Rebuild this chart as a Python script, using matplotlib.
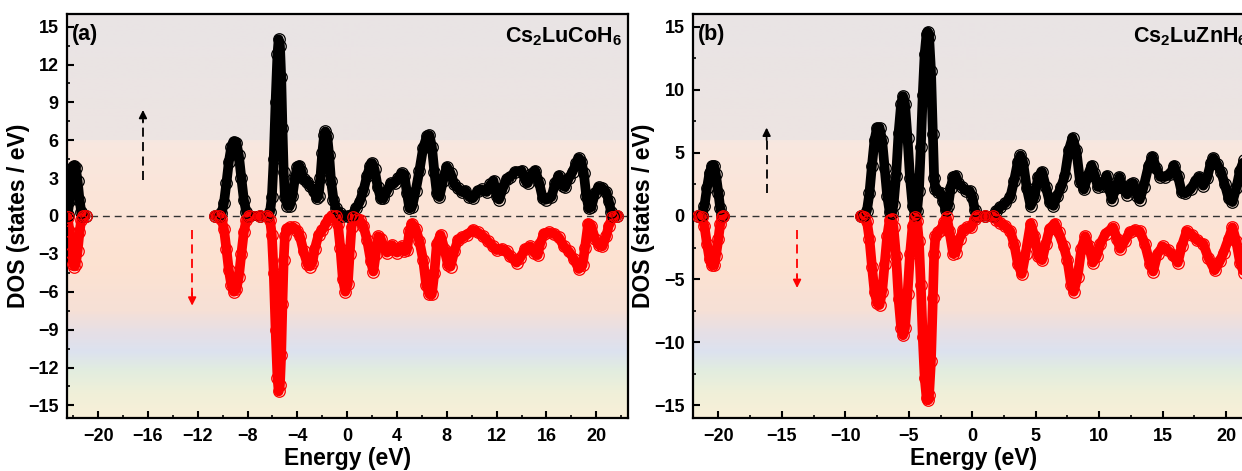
import numpy as np
import matplotlib
matplotlib.use("Agg")
import matplotlib.pyplot as plt
from matplotlib.colors import LinearSegmentedColormap
from matplotlib.ticker import MultipleLocator

plt.rcParams['font.family'] = ['Liberation Sans', 'DejaVu Sans']
plt.rcParams['font.weight'] = 'bold'
plt.rcParams['mathtext.fontset'] = 'custom'
plt.rcParams['mathtext.rm'] = 'Liberation Sans:bold'
plt.rcParams['mathtext.bf'] = 'Liberation Sans:bold'
plt.rcParams['axes.unicode_minus'] = True

nan = np.nan

# ---- Cs2LuCoH6: spin up / spin down DOS (states/eV) vs energy (eV) ----
co_up_E = [-22.45, -22.3, -22.15, -22.0, -21.9, -21.8, -21.65, -21.5, -21.35, -21.2, -21.0, nan,
           -10.6, -10.3, -10.1, -9.9, -9.7, -9.5, -9.3, -9.1, -8.9, -8.7, -8.5, -8.3, -8.1, -7.9,
           -7.0, -6.4, -6.2, -6.05, -5.9, -5.75, -5.6, -5.5, -5.4, -5.3, -5.2, -5.1, -5.0, -4.8,
           -4.6, -4.4, -4.2, -4.0, -3.85, -3.7, -3.5, -3.2, -3.0, -2.7, -2.45, -2.3, -2.15, -2.0,
           -1.85, -1.75, -1.6, -1.45, -1.3, -1.1, -0.9, -0.6, -0.3, 0.1, 0.4, 0.7, 1.0, 1.3, 1.6,
           1.85, 2.0, 2.2, 2.45, 2.7, 2.9, 3.2, 3.5, 3.8, 4.1, 4.4, 4.6, 4.8, 5.0, 5.2, 5.5, 5.8,
           6.1, 6.4, 6.6, 6.8, 7.0, 7.2, 7.4, 7.7, 8.0, 8.3, 8.6, 8.9, 9.2, 9.5, 9.8, 10.1, 10.5,
           10.8, 11.2, 11.5, 11.75, 12.0, 12.2, 12.5, 12.8, 13.1, 13.5, 14.0, 14.3, 14.5, 14.8,
           15.1, 15.4, 15.7, 16.0, 16.4, 16.7, 17.0, 17.3, 17.5, 17.8, 18.1, 18.4, 18.6, 18.8,
           19.0, 19.2, 19.4, 19.6, 19.9, 20.2, 20.5, 20.8, 21.0, 21.2, 21.35, 21.7]
co_up_D = [0.1, 1.2, 2.9, 3.9, 4.0, 3.8, 2.8, 1.3, 0.3, 0.0, 0.0, nan,
           0.0, 0.0, 0.2, 1.0, 2.6, 4.3, 5.5, 5.9, 5.8, 4.8, 3.0, 1.3, 0.3, 0.0,
           0.0, 0.0, 0.3, 1.5, 4.5, 9.0, 12.8, 14.0, 13.5, 11.0, 7.0, 3.5, 1.5, 0.8,
           0.8, 1.6, 3.0, 3.9, 4.0, 3.6, 2.9, 2.7, 2.4, 2.0, 1.4, 1.6, 3.0, 5.0,
           6.4, 6.7, 6.3, 4.8, 2.8, 1.3, 0.6, 0.2, 0.0, 0.0, 0.1, 0.6, 1.1, 2.0, 3.2,
           4.0, 4.2, 3.7, 2.3, 1.4, 1.4, 2.0, 2.6, 2.6, 3.0, 3.4, 3.2, 1.8, 0.6, 0.7, 2.0, 3.6,
           5.4, 6.3, 6.4, 5.5, 3.5, 1.8, 1.5, 2.8, 3.9, 3.4, 2.5, 2.2, 1.9, 2.0, 1.5, 1.4, 2.0,
           2.1, 1.9, 2.5, 2.8, 1.6, 1.3, 2.2, 2.9, 3.1, 3.5, 3.6, 2.8, 2.6, 3.3,
           3.6, 2.7, 1.4, 1.3, 1.5, 2.6, 3.2, 2.4, 2.3, 3.0, 3.5, 4.2, 4.6, 4.3,
           3.4, 1.6, 0.6, 0.7, 1.8, 2.3, 2.2, 1.9, 1.2, 0.3, 0.0, 0.0]

co_dn_E = [-22.45, -22.3, -22.15, -22.0, -21.9, -21.8, -21.65, -21.5, -21.35, -21.2, -21.0, nan,
           -10.6, -10.3, -10.1, -9.9, -9.7, -9.5, -9.3, -9.1, -8.9, -8.7, -8.5, -8.3, -8.1, -7.9,
           -7.0, -6.4, -6.2, -6.05, -5.9, -5.75, -5.6, -5.5, -5.4, -5.3, -5.2, -5.1, -5.0, -4.85,
           -4.6, -4.3, -4.0, -3.8, -3.5, -3.2, -3.0, -2.8, -2.6, -2.3, -2.0, -1.7, -1.5, -1.2,
           -0.9, -0.75, -0.55, -0.35, -0.15, 0.05, 0.2, 0.35, 0.5, 0.8, 1.0, 1.3, 1.6, 1.9, 2.1,
           2.3, 2.5, 2.7, 2.9, 3.2, 3.4, 3.6, 3.8, 4.0, 4.2, 4.4, 4.6, 4.8, 5.0, 5.2, 5.5, 5.8,
           6.1, 6.35, 6.6, 6.8, 7.0, 7.2, 7.5, 7.8, 8.1, 8.3, 8.6, 8.9, 9.2, 9.6, 10.1, 10.5,
           10.9, 11.3, 11.7, 12.0, 12.4, 12.8, 13.1, 13.6, 13.9, 14.3, 14.7, 15.0, 15.3, 15.5,
           15.8, 16.2, 16.6, 17.0, 17.4, 17.8, 18.2, 18.6, 18.9, 19.1, 19.35, 19.6, 19.9, 20.2,
           20.5, 20.8, 21.0, 21.3, 21.7]
co_dn_D = [-0.1, -1.2, -2.9, -3.8, -4.0, -3.8, -2.8, -1.3, -0.3, 0.0, 0.0, nan,
           0.0, 0.0, -0.2, -1.0, -2.6, -4.3, -5.5, -6.0, -5.8, -4.8, -3.0, -1.3, -0.3, 0.0,
           0.0, 0.0, -0.3, -1.5, -4.5, -9.0, -12.8, -13.9, -13.4, -11.0, -7.0, -3.5, -1.6, -1.0,
           -0.9, -0.9, -1.2, -1.6, -2.8, -3.8, -4.0, -3.7, -2.6, -1.5, -1.1, -0.6, -0.2, 0.0,
           0.0, -0.6, -2.5, -5.0, -6.0, -5.4, -3.0, -0.9, -0.1, -0.2, -0.3, -0.8, -1.9, -3.6, -4.4,
           -3.0, -1.6, -1.8, -2.4, -2.9, -2.6, -2.3, -2.6, -2.9, -2.6, -2.4, -2.8, -2.7, -1.2, -0.6, -1.0, -2.0,
           -3.5, -5.5, -6.2, -6.2, -4.5, -2.2, -1.5, -2.6, -3.9, -4.0, -2.8, -1.9, -1.7, -1.5, -1.1, -1.3,
           -1.6, -2.0, -2.4, -2.7, -2.6, -2.8, -3.2, -3.7, -3.3, -2.6, -2.4, -2.9, -3.1, -2.2,
           -1.4, -1.3, -1.4, -1.7, -2.4, -2.8, -3.4, -4.2, -3.9, -2.5, -0.6, -0.8, -1.8, -2.3,
           -2.4, -1.6, -0.8, -0.1, 0.0]

# ---- Cs2LuZnH6 ----
zn_up_E = [-21.6, -21.3, -21.1, -20.9, -20.7, -20.5, -20.35, -20.2, -20.0, -19.85, -19.7, -19.6, nan,
           -8.8, -8.5, -8.3, -8.1, -7.9, -7.7, -7.5, -7.3, -7.1, -6.9, -6.7, -6.5, -6.35, -6.2,
           -6.0, -5.8, -5.6, -5.45, -5.3, -5.1, -4.9, -4.7, -4.5, -4.35, -4.2, -4.05, -3.9, -3.75,
           -3.6, -3.5, -3.4, -3.25, -3.1, -3.0, -2.9, -2.7, -2.5, -2.3, -2.1, -1.9, -1.7, -1.5,
           -1.3, -1.1, -0.8, -0.5, -0.2, 0.0, 0.2, 0.4, 1.0, 1.6, 1.9, 2.2, 2.6, 3.0, 3.3, 3.6,
           3.8, 4.0, 4.3, 4.6, 4.9, 5.2, 5.5, 5.8, 6.1, 6.4, 6.7, 7.0, 7.3, 7.6, 7.9, 8.2, 8.5,
           8.8, 9.1, 9.4, 9.6, 9.9, 10.2, 10.6, 10.8, 11.0, 11.3, 11.6, 11.9, 12.2, 12.5, 12.7,
           13.0, 13.2, 13.5, 13.9, 14.2, 14.5, 14.8, 15.2, 15.6, 15.9, 16.2, 16.5, 16.8, 17.2,
           17.6, 17.9, 18.2, 18.5, 18.8, 19.0, 19.3, 19.6, 19.9, 20.2, 20.5, 20.8, 21.1, 21.4,
           21.7, 22.0]
zn_up_D = [0.0, 0.1, 0.8, 2.2, 3.4, 4.0, 4.0, 3.3, 1.8, 0.6, 0.05, 0.0, nan,
           0.0, 0.05, 0.4, 1.8, 4.0, 6.0, 7.0, 7.0, 6.0, 3.8, 1.6, 0.3, 0.2, 0.9,
           3.2, 6.6, 8.9, 9.5, 8.9, 6.2, 3.0, 0.8, 0.1, 0.4, 2.0, 5.5, 9.6, 12.8,
           14.4, 14.6, 14.2, 11.5, 6.5, 3.0, 2.1, 1.9, 1.8, 1.2, 0.5, 0.8, 2.2, 3.1,
           3.2, 2.6, 2.3, 2.0, 2.0, 1.5, 0.5, 0.0, 0.0, 0.0, 0.4, 0.7, 1.0, 1.5, 2.8, 4.3,
           4.8, 4.3, 2.2, 0.8, 1.5, 3.1, 3.5, 2.3, 1.1, 0.8, 1.6, 2.3, 3.2, 5.2, 6.2, 5.2, 2.7,
           2.1, 3.2, 4.0, 3.4, 2.3, 2.4, 3.2, 2.2, 1.3, 2.2, 3.1, 2.2, 1.7, 2.5, 2.6,
           1.6, 1.3, 2.3, 4.0, 4.7, 3.8, 3.1, 3.1, 3.3, 4.0, 3.2, 1.9, 1.8, 2.1,
           2.8, 3.1, 2.4, 3.0, 4.2, 4.6, 4.1, 3.5, 2.5, 1.4, 1.1, 2.2, 3.6, 4.4,
           3.2, 2.0]

zn_dn_E = [-21.6, -21.3, -21.1, -20.9, -20.7, -20.5, -20.35, -20.2, -20.0, -19.85, -19.7, -19.6, nan,
           -8.8, -8.5, -8.3, -8.1, -7.9, -7.7, -7.5, -7.3, -7.1, -6.9, -6.7, -6.5, -6.35, -6.2,
           -6.0, -5.8, -5.6, -5.45, -5.3, -5.1, -4.9, -4.7, -4.5, -4.35, -4.2, -4.05, -3.9, -3.75,
           -3.6, -3.5, -3.4, -3.25, -3.1, -3.0, -2.9, -2.7, -2.5, -2.2, -2.0, -1.8, -1.5, -1.3,
           -1.0, -0.7, -0.4, -0.1, 0.2, 0.4, 1.0, 1.6, 1.9, 2.2, 2.6, 3.0, 3.3, 3.6, 3.9, 4.2,
           4.6, 4.9, 5.2, 5.5, 5.8, 6.1, 6.5, 6.8, 7.2, 7.5, 7.8, 8.0, 8.3, 8.6, 8.9, 9.2, 9.5,
           9.8, 10.1, 10.5, 11.1, 11.4, 11.65, 12.0, 12.4, 12.8, 13.2, 13.6, 14.0, 14.25, 14.6,
           15.0, 15.4, 15.8, 16.2, 16.5, 16.9, 17.3, 17.7, 18.2, 18.6, 19.1, 19.5, 19.8, 20.2,
           20.5, 20.8, 21.1, 21.4, 21.7, 22.0]
zn_dn_D = [0.0, -0.1, -0.8, -2.2, -3.4, -3.9, -3.9, -3.2, -1.8, -0.6, -0.05, 0.0, nan,
           0.0, -0.05, -0.4, -1.8, -4.0, -6.0, -6.9, -7.05, -6.0, -3.8, -1.6, -0.3, -0.2, -0.9,
           -3.2, -6.6, -8.9, -9.45, -8.9, -6.2, -3.0, -0.8, -0.1, -0.4, -2.0, -5.5, -9.6, -12.8,
           -14.4, -14.6, -14.2, -11.5, -6.5, -3.0, -1.6, -1.3, -1.1, -0.5, -0.1, -1.2, -3.0, -2.9,
           -1.8, -1.1, -0.9, -0.9, -0.2, 0.0, 0.0, 0.0, -0.3, -0.55, -0.8, -1.2, -2.2, -3.8, -4.6, -3.0,
           -0.6, -1.6, -3.2, -3.5, -2.2, -1.0, -0.6, -1.3, -2.4, -3.5, -5.5, -6.0, -4.8, -2.6, -1.6, -2.4, -3.7,
           -3.2, -2.2, -1.4, -0.9, -1.8, -2.6, -2.0, -1.3, -1.1, -1.2, -2.2, -3.8, -4.4, -3.0,
           -2.4, -2.7, -3.1, -3.7, -2.4, -1.2, -1.5, -1.9, -2.2, -3.3, -4.3, -3.6, -2.9, -1.8,
           -0.9, -2.0, -3.7, -4.5, -3.8, -2.5]

# arrows: (energy, start, end, colour)
co_arrows = [(-16.4, 2.85, 8.4, 'black'), (-12.45, -1.1, -7.1, 'red')]
zn_arrows = [(-16.2, 1.8, 7.0, 'black'), (-13.8, -1.1, -5.7, 'red')]

# background bands: (dos value, colour)
bg_stops = [(-16, '#f8efd8'), (-14, '#eff0d9'), (-12.3, '#e2eddf'), (-10.8, '#dce2ef'),
            (-9.3, '#e6dfe6'), (-7.5, '#f6e0d6'), (-4, '#fde2d1'), (2, '#fbe5d9'),
            (5.95, '#f8e8e0'), (6.05, '#ede4e2'), (16, '#e9e4e5')]


def draw_panel(ax, up_E, up_D, dn_E, dn_D, xlim, xstep, ystep, tag, name, arrows):
    ymin, ymax = -16, 16
    cmap = LinearSegmentedColormap.from_list(
        'bg', [((v - ymin) / (ymax - ymin), c) for v, c in bg_stops])
    grad = np.linspace(0, 1, 400).reshape(-1, 1)
    ax.imshow(grad, cmap=cmap, aspect='auto', origin='lower',
              extent=[xlim[0], xlim[1], ymin, ymax], zorder=0)

    ax.axhline(0, color='#333333', lw=1.0, ls=(0, (5, 3.5)), zorder=1)

    for E, D, col in [(up_E, up_D, 'black'), (dn_E, dn_D, 'red')]:
        ax.plot(E, D, color=col, lw=7.0, solid_capstyle='round',
                solid_joinstyle='round', zorder=2)
        ax.plot(E, D, ls='none', marker='o', ms=8.3, mfc='none', mec=col,
                mew=0.9, zorder=3)

    for x0, y0, y1, col in arrows:
        ax.plot([x0, x0], [y0, y1 - np.sign(y1 - y0) * 0.8], color=col, lw=1.3,
                ls=(0, (5, 3)), zorder=4)
        ax.annotate('', xy=(x0, y1), xytext=(x0, y1 - np.sign(y1 - y0) * 1.0),
                    arrowprops=dict(arrowstyle='-|>', color=col, lw=1.2,
                                    mutation_scale=12, shrinkA=0, shrinkB=0),
                    zorder=4)

    ax.set_xlim(*xlim)
    ax.set_ylim(ymin, ymax)
    ax.xaxis.set_major_locator(MultipleLocator(xstep))
    ax.xaxis.set_minor_locator(MultipleLocator(xstep / 2))
    ax.yaxis.set_major_locator(MultipleLocator(ystep))
    ax.yaxis.set_minor_locator(MultipleLocator(ystep / 2))
    ax.tick_params(which='major', direction='in', length=5, width=1.5,
                   labelsize=13, pad=6)
    ax.tick_params(which='minor', direction='in', length=2.5, width=1.2)
    ax.tick_params(axis='x', pad=7)
    for lab in ax.get_xticklabels() + ax.get_yticklabels():
        lab.set_fontweight('bold')
    for sp in ax.spines.values():
        sp.set_linewidth(1.6)

    ax.set_xlabel('Energy (eV)', fontsize=16.5, fontweight='bold', labelpad=2)
    ax.set_ylabel('DOS (states / eV)', fontsize=16.5, fontweight='bold')
    ax.text(0.008, 0.975, tag, transform=ax.transAxes, ha='left', va='top',
            fontsize=15.5, fontweight='bold', zorder=5)
    ax.text(0.989, 0.972, name, transform=ax.transAxes, ha='right', va='top',
            fontsize=15.5, fontweight='bold', zorder=5)


fig = plt.figure(figsize=(12.42, 4.71), dpi=100)
ax1 = fig.add_axes([67 / 1242, 53 / 471, 561 / 1242, 404 / 471])
ax2 = fig.add_axes([693 / 1242, 53 / 471, 561 / 1242, 404 / 471])

draw_panel(ax1, co_up_E, co_up_D, co_dn_E, co_dn_D, (-22.5, 22.55), 4, 3, '(a)',
           r'Cs$_{\mathbf{2}}$LuCoH$_{\mathbf{6}}$', co_arrows)
draw_panel(ax2, zn_up_E, zn_up_D, zn_dn_E, zn_dn_D, (-22.0, 22.2), 5, 5, '(b)',
           r'Cs$_{\mathbf{2}}$LuZnH$_{\mathbf{6}}$', zn_arrows)
ax1.yaxis.set_label_coords(-0.066, 0.5)
ax2.yaxis.set_label_coords(-0.068, 0.5)

fig.savefig('out.png', dpi=100)
